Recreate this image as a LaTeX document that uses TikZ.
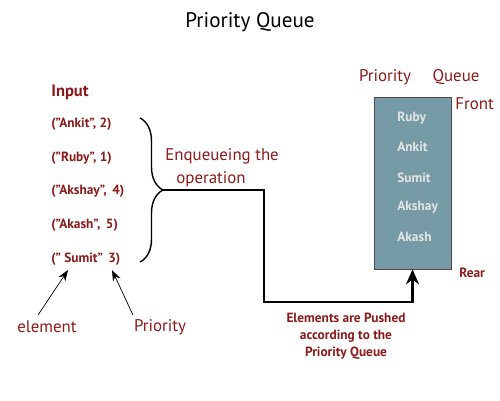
\documentclass[tikz,border=0pt]{standalone}
\usepackage{fontspec}
\setmainfont{PT Sans}
\usepackage{tikz}
\usetikzlibrary{positioning,decorations.pathreplacing,arrows.meta}

\definecolor{qred}{HTML}{8B1A1A}
\definecolor{qbox}{HTML}{779BA6}
\definecolor{qtext}{HTML}{E4E4E4}

\tikzset{
  lbl/.style={text=qred, font=\fontsize{9.6}{11}\selectfont, inner sep=0pt},
  item/.style={text=qred, font=\fontsize{7.6}{9}\selectfont\bfseries, inner sep=0pt, anchor=west},
  qitem/.style={text=qtext, font=\fontsize{7.6}{9}\selectfont\bfseries, inner sep=0pt, anchor=west}
}

\begin{document}
\begin{tikzpicture}[x=0.02cm, y=-0.02cm]
                    \useasboundingbox (0,0) rectangle (500,400);

                    \node [font=\fontsize{12}{14}\selectfont, inner sep=0pt] (title) at (250,22) {Priority Queue};

                    % input list
                    \node [item, font=\fontsize{9.4}{11}\selectfont\bfseries] (input) at (51,92) {Input};
                    \node [item] (ankit)  at (51,124) {(”Ankit”, 2)};
                    \node [item] (ruby)   at (51,158) {(”Ruby”, 1)};
                    \node [item] (akshay) at (51,191) {(”Akshay”, \,4)};
                    \node [item] (akash)  at (51,225) {(”Akash”, \,5)};
                    \node [item] (sumit)  at (51,259) {(” Sumit” \,3)};

                    \draw [thick, decorate, decoration={brace, amplitude=0.46cm}]
                          (140,118) -- (140,262);
                    \coordinate (tip) at (163,190);

                    \node [lbl, anchor=west] (enq)  at (165,156) {Enqueueing the};
                    \node [lbl, anchor=west] (oper) at (176,179) {operation};

                    % queue
                    \node [draw=black!70, fill=qbox, minimum width=1.54cm, minimum height=3.44cm,
                           inner sep=0pt] (queue) at (412.5,183) {};
                    \node [qitem] (q1) at (397,118) {Ruby};
                    \node [qitem] (q2) at (397,147) {Ankit};
                    \node [qitem] (q3) at (397,178) {Sumit};
                    \node [qitem] (q4) at (397,207) {Akshay};
                    \node [qitem] (q5) at (397,237) {Akash};

                    \node [lbl] (prio)  at (385,77) {Priority};
                    \node [lbl] (queue2) at (456,77) {Queue};
                    \node [lbl, anchor=west] (front) at (455,104) {Front};
                    \node [item] (rear) at (459,273) {Rear};

                    \draw [line width=1.2pt, -{Stealth[length=0.3cm, width=0.26cm]}]
                          (tip) -- (264,190) -- (264,302) -- (queue.south |- 0,302) -- (queue.south);

                    \node [item, anchor=center, align=center, font=\fontsize{7.6}{9.6}\selectfont\bfseries]
                          (pushed) at (346,336) {Elements are Pushed\\according to the\\Priority Queue};

                    % element / priority
                    \node [lbl] (elem) at (47,327) {element};
                    \node [lbl] (pr)   at (160,327) {Priority};
                    \coordinate (elemhead) at (68,270);
                    \coordinate (prhead) at (112,270);
                    \draw [-{Stealth[length=0.22cm, width=0.16cm]}] (38,315) -- (elemhead);
                    \draw [-{Stealth[length=0.22cm, width=0.16cm]}] (133,315) -- (prhead);
                \end{tikzpicture}
\end{document}
